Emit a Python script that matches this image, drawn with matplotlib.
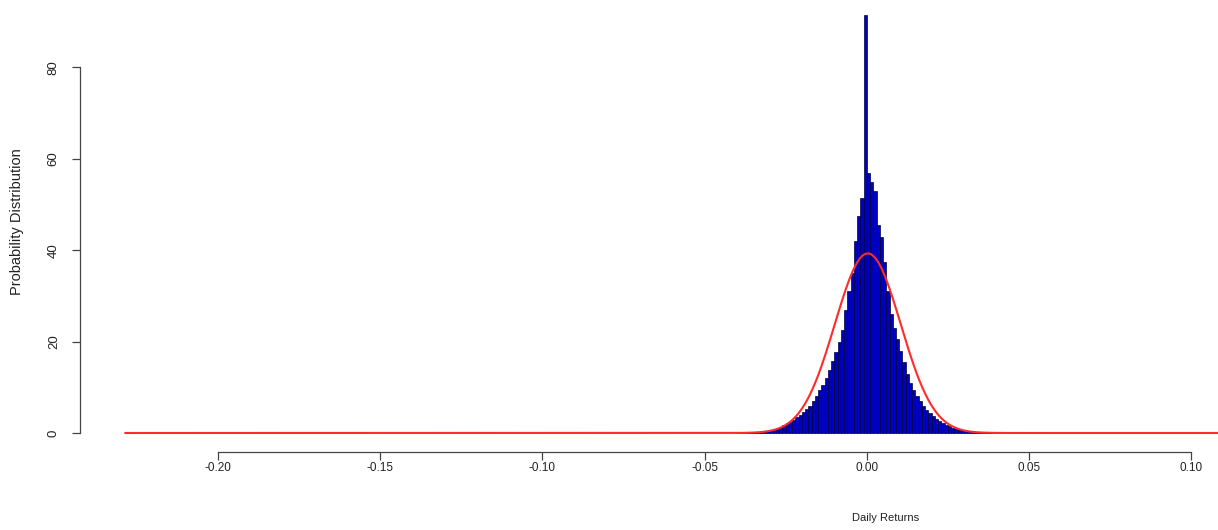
import numpy as np
import matplotlib
matplotlib.use('Agg')
import matplotlib.pyplot as plt
from matplotlib import rcParams

rcParams['font.family'] = ['Liberation Sans', 'DejaVu Sans']
rcParams.update({'font.size': 9})

# histogram of daily returns, bins of width 0.001 starting at -0.040
bin_start = -0.040
bin_width = 0.001
density = [
    0.05, 0.1, 0.1, 0.15, 0.2, 0.2, 0.3, 0.3, 0.35, 0.45,
    0.6, 0.8, 1.1, 1.4, 1.8, 2.1, 2.5, 2.9, 3.4, 4.0,
    4.7, 5.3, 6.0, 7.0, 8.2, 9.3, 10.5, 12.0, 13.8, 15.8,
    17.8, 20.0, 22.5, 27.0, 31.0, 35.0, 42.0, 47.5, 51.5, 91.5,
    57.0, 55.0, 53.0, 45.5, 43.0, 37.5, 31.0, 26.0, 23.0, 20.5,
    18.0, 15.5, 13.0, 11.0, 9.5, 8.0, 7.0, 6.0, 5.0, 4.3,
    3.7, 3.1, 2.6, 2.2, 1.8, 1.5, 1.2, 1.0, 0.8, 0.6,
    0.5, 0.4, 0.35, 0.3, 0.25, 0.2, 0.2, 0.15, 0.15, 0.1,
    0.1, 0.05, 0.1, 0.05, 0.05, 0.05, 0.0, 0.05, 0.0, 0.0,
]

# fitted normal curve
mu = 0.0003
sigma = 0.01015
curve_from = -0.2285
curve_to = 0.125

xticks = [-0.20, -0.15, -0.10, -0.05, 0.00, 0.05, 0.10]
xticklabels = ['-0.20', '-0.15', '-0.10', '-0.05', '0.00', '0.05', '0.10']
yticks = [0, 20, 40, 60, 80]

fig = plt.figure(figsize=(12.18, 5.30), dpi=100)
ax = fig.add_axes([80 / 1218, 78 / 530, 1181 / 1218, 454 / 530])

lefts = bin_start + bin_width * np.arange(len(density))
ax.bar(lefts, density, width=bin_width, align='edge',
       color='#0000c0', edgecolor='#00003a', linewidth=0.5)

xs = np.linspace(curve_from, curve_to, 2000)
ys = np.exp(-0.5 * ((xs - mu) / sigma) ** 2) / (sigma * np.sqrt(2 * np.pi))
ax.plot(xs, ys, color='#ff2a2a', linewidth=1.5)

ax.set_xlim(-0.2425, 0.1215)
ax.set_ylim(-4.16, 95.2)

for s in ['top', 'right']:
    ax.spines[s].set_visible(False)
ax.spines['left'].set_bounds(0, 80)
ax.spines['bottom'].set_bounds(-0.20, 0.10)
for s in ['left', 'bottom']:
    ax.spines[s].set_color('#444444')
    ax.spines[s].set_linewidth(0.9)

ax.set_xticks(xticks)
ax.set_xticklabels(xticklabels)
ax.set_yticks(yticks)
ax.set_yticklabels([str(v) for v in yticks], rotation=90, va='center')
ax.tick_params(axis='both', direction='out', length=5.5, width=0.9,
               color='#444444', labelcolor='#222222', labelsize=9.5)
ax.tick_params(axis='x', labelsize=8.5, pad=2)
ax.tick_params(axis='y', pad=9)

fig.text(17 / 1218, 1 - 222 / 530, 'Probability Distribution', rotation=90,
         ha='center', va='center', fontsize=10.5, color='#222222')
fig.text(886 / 1218, 1 - 518 / 530, 'Daily Returns',
         ha='center', va='center', fontsize=8, color='#222222')

fig.savefig('out.png', dpi=100)
plt.close(fig)
